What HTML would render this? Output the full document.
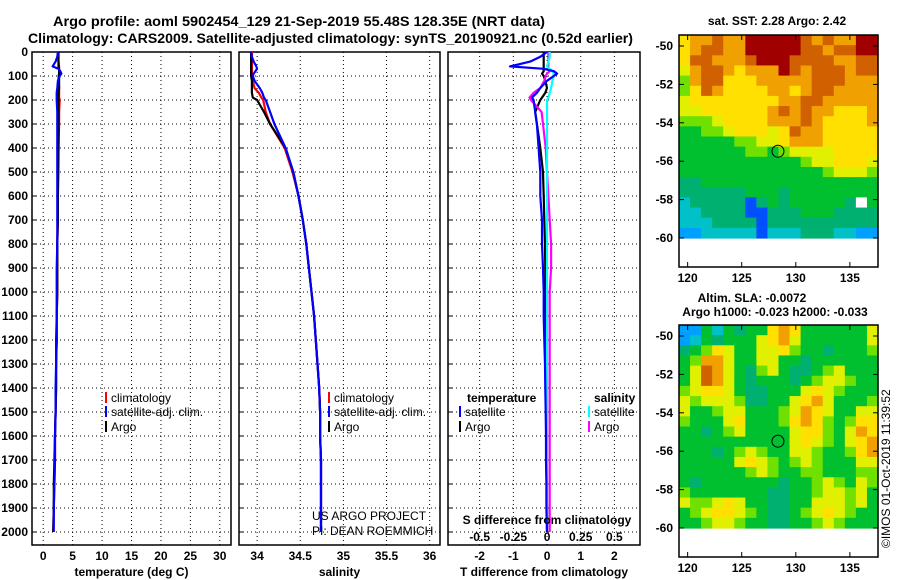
<!DOCTYPE html>
<html><head><meta charset="utf-8"><style>
body{margin:0;background:#fff}
svg{display:block;font-family:"Liberation Sans",sans-serif;font-weight:bold}
</style></head><body>
<svg id="c" width="900" height="580" viewBox="0 0 900 580">
<text x="53" y="26" font-size="14" textLength="492" lengthAdjust="spacingAndGlyphs">Argo profile: aoml 5902454_129 21-Sep-2019 55.48S 128.35E (NRT data)</text>
<text x="28" y="43" font-size="14" textLength="605" lengthAdjust="spacingAndGlyphs">Climatology: CARS2009. Satellite-adjusted climatology: synTS_20190921.nc (0.52d earlier)</text>
</svg>
<script>
const depths=[0,20,40,60,70,80,90,100,120,150,170,190,200,250,300,400,500,600,700,800,900,1000,1100,1200,1300,1400,1500,1600,1700,1800,1900,2000];
const tempClim=[2.5,2.5,2.6,2.7,2.7,2.7,2.7,2.6,2.6,2.7,2.7,2.7,2.8,2.7,2.7,2.6,2.6,2.5,2.5,2.4,2.4,2.4,2.3,2.3,2.2,2.2,2.1,2.0,2.0,1.9,1.8,1.7];
const tempSat=[2.5,2.4,2.1,1.6,2.6,2.9,3.1,2.8,2.5,2.4,2.3,2.3,2.3,2.4,2.4,2.4,2.4,2.4,2.4,2.4,2.3,2.3,2.3,2.2,2.2,2.1,2.1,2.0,2.0,1.9,1.8,1.8];
const tempArgo=[2.6,2.6,2.6,2.6,2.7,2.7,2.7,2.7,2.7,2.7,2.6,2.6,2.6,2.6,2.6,2.6,2.5,2.5,2.5,2.4,2.4,2.4,2.3,2.3,2.2,2.2,2.1,2.0,1.9,1.8,1.8,1.7];
const salClim=[33.94,33.94,33.94,33.94,33.94,33.94,33.94,33.94,33.95,33.97,34.02,34.05,34.07,34.10,34.15,34.32,34.41,34.48,34.53,34.57,34.60,34.63,34.66,34.68,34.70,34.72,34.73,34.73,34.74,34.74,34.74,34.74];
const salSat=[33.93,33.94,33.96,33.99,34.00,33.98,33.96,33.95,33.97,34.03,34.06,34.08,34.10,34.15,34.20,34.33,34.42,34.48,34.53,34.57,34.60,34.63,34.66,34.68,34.70,34.72,34.73,34.73,34.74,34.74,34.74,34.74];
const salArgo=[33.93,33.93,33.93,33.93,33.93,33.93,33.93,33.93,33.94,33.94,33.94,33.95,34.00,34.08,34.15,34.33,34.42,34.48,34.53,34.57,34.60,34.63,34.66,34.68,34.70,34.72,34.73,34.73,34.74,34.74,34.74,34.74];
const tdiffSat=[0.0,-0.2,-0.5,-1.1,-0.1,0.2,0.3,0.2,0.0,-0.2,-0.3,-0.45,-0.4,-0.35,-0.3,-0.25,-0.2,-0.2,-0.15,-0.15,-0.12,-0.1,-0.1,-0.08,-0.06,-0.05,-0.04,-0.03,-0.03,-0.02,-0.02,0];
const tdiffArgo=[-0.1,-0.1,-0.1,-0.1,-0.1,-0.1,-0.15,-0.1,-0.05,0,-0.05,-0.15,-0.2,-0.35,-0.3,-0.2,-0.12,-0.1,-0.08,-0.06,-0.05,-0.05,-0.04,-0.04,-0.03,-0.03,-0.02,-0.02,-0.02,-0.01,0,0];
const sdiffSat=[0.02,0.02,0.01,0.0,0.02,0.04,0.05,0.05,0.04,0.03,0.02,0.01,0,0,0,0,0,0,0,0,0,0,0,0,0,0,0,0,0,0,0,0];
const sdiffArgo=[0.01,0.01,0.01,0.01,0.01,0.02,0.0,-0.01,-0.02,-0.05,-0.1,-0.13,-0.12,-0.04,-0.03,-0.01,0,0.01,0.02,0.03,0.03,0.02,0.02,0.02,0.02,0.02,0.02,0.02,0.02,0.02,0.02,0.02];
const depthTicks=[0,100,200,300,400,500,600,700,800,900,1000,1100,1200,1300,1400,1500,1600,1700,1800,1900,2000];
const tempTicks=[0,5,10,15,20,25,30];
const salTicks=[34,34.5,35,35.5,36];
const tdiffTicks=[-2,-1,0,1,2];
const sdiffTicks=[-0.5,-0.25,0,0.25,0.5];
const latTicks=[-50,-52,-54,-56,-58,-60];
const lonTicks=[120,125,130,135];
const sstGrid=[
"788988AAAAA98988AA","789988AAAAA99899AA","7998889AAA99998899","689987888A98999899",
"589977788888999888","579877778878998888","677777777889988888","667777778989887778",
"555677778889877778","445567776798877777","444445566788877777","444444554566667777",
"444444444445667776","444444444444456665","334444444444444444","333333444344444444",
"2333330343444443W4","223333003334443333","222333303333333333","112222202223332211"];
const slaGrid=[
"114243447874444446","124344467864444446","345764466754434445","458864466443444444",
"469864356433456444","469864344434566544","567764334446765444","656665334467864445",
"644566444568764466","544467444578754577","443456444467754687","444444444467654678",
"444345654466544578","444446765456544466","444444565445544455","434444444344565465",
"544444443344566564","655676443344666564","456776543345676544","445665443344565444"];
const profLon=128.35, profLat=-55.48;

const svg=document.getElementById('c');
const NS='http://www.w3.org/2000/svg';
function el(t,a,p){const e=document.createElementNS(NS,t);for(const k in a)e.setAttribute(k,a[k]);(p||svg).appendChild(e);return e;}
function txt(s,a,p){const e=el('text',a,p);e.textContent=s;return e;}
const Y0=52, YK=0.24, PB=545;
const yD=d=>Y0+YK*d;
const panels=[
 {x0:32,x1:231,v0:-1.9,v1:31.9,ticks:tempTicks,label:'temperature (deg C)',name:'temperature-panel'},
 {x0:239,x1:440,v0:33.79,v1:36.12,ticks:salTicks,label:'salinity',name:'salinity-panel'},
 {x0:448,x1:640,v0:-2.94,v1:2.76,ticks:tdiffTicks,label:'T difference from climatology',name:'difference-panel'}];
panels.forEach((p,i)=>{
 p.x=v=>p.x0+(v-p.v0)/(p.v1-p.v0)*(p.x1-p.x0);
 const g=el('g',{});
 
 
 depthTicks.forEach(d=>{
  const l=el('line',{x1:p.x0,x2:p.x1,y1:yD(d),y2:yD(d),stroke:'#000','stroke-dasharray':'1 3'},g);
  
  
  el('line',{x1:p.x0,x2:p.x0+5,y1:yD(d),y2:yD(d),stroke:'#000'},g);
  if(i==0){const t=txt(String(d),{x:28,y:yD(d)+4,'text-anchor':'end','font-size':12},g);
   
   }
 });
 p.ticks.forEach(v=>{
  const l=el('line',{x1:p.x(v),x2:p.x(v),y1:Y0,y2:PB,stroke:'#000','stroke-dasharray':'1 3'},g);
  
  
  const t=txt(String(v),{x:p.x(v),y:560,'text-anchor':'middle','font-size':12},g);
  
  
 });
 el('rect',{x:p.x0,y:Y0,width:p.x1-p.x0,height:PB-Y0,fill:'none',stroke:'#000','stroke-width':1.5},g);
 const t=txt(p.label,{x:(p.x0+p.x1)/2,y:576,'text-anchor':'middle','font-size':12},g);
 
 
});
function line(p,vals,col,name,scale){
 const pts=vals.map((v,i)=>p.x(v*(scale||1)).toFixed(1)+','+yD(depths[i]).toFixed(1)).join(' ');
 const e=el('polyline',{points:pts,fill:'none',stroke:col,'stroke-width':2.2,'stroke-linejoin':'round'});
 
 
}
const [P1,P2,P3]=panels;
line(P1,tempClim,'#f00','temp-climatology-line');line(P1,tempArgo,'#000','temp-argo-line');line(P1,tempSat,'#00f','temp-satellite-line');
line(P2,salClim,'#f00','sal-climatology-line');line(P2,salArgo,'#000','sal-argo-line');line(P2,salSat,'#00f','sal-satellite-line');
line(P3,tdiffArgo,'#000','tdiff-argo-line');line(P3,sdiffArgo,'#f0f','sdiff-argo-line',4);
line(P3,sdiffSat,'#0ff','sdiff-satellite-line',4);line(P3,tdiffSat,'#00f','tdiff-satellite-line');
sdiffTicks.forEach(v=>{const t=txt(String(v),{x:P3.x(v*4),y:541,'text-anchor':'middle','font-size':12});
 
 });
txt('S difference from climatology',{x:547,y:524,'text-anchor':'middle','font-size':12,});
function leg(x,y,col,label,nm){const g=el('g',{});
 el('rect',{x:x,y:y-10,width:2,height:11,fill:col},g);
 txt(label,{x:x+6,y:y,'font-size':12,'font-weight':'normal'},g);}
leg(105,402,'#f00','climatology','legend-climatology');leg(105,416,'#00f','satellite-adj. clim.','legend-satellite');leg(105,431,'#000','Argo','legend-argo');
leg(328,402,'#f00','climatology','legend-climatology-2');leg(328,416,'#00f','satellite-adj. clim.','legend-satellite-2');leg(328,431,'#000','Argo','legend-argo-2');
txt('temperature',{x:467,y:402,'font-size':12,});
txt('salinity',{x:594,y:402,'font-size':12,});
leg(459,416,'#00f','satellite','legend-t-satellite');leg(459,431,'#000','Argo','legend-t-argo');
leg(588,416,'#0ff','satellite','legend-s-satellite');leg(588,431,'#f0f','Argo','legend-s-argo');
txt('US ARGO PROJECT',{x:312,y:520,'font-size':12,'font-weight':'normal',});
txt('PI: DEAN ROEMMICH',{x:312,y:535,'font-size':12,'font-weight':'normal',});
const cmap={'0':'#0050ff','1':'#00a0ff','2':'#00c0c8','3':'#00b070','4':'#00c030','5':'#70e000','6':'#e0f000','7':'#ffe000','8':'#f0a000','9':'#d06000','A':'#a00000','W':'#ffffff'};
const MX0=679,MX1=878,LON0=119.2,LON1=137.6;
const mx=l=>MX0+(l-LON0)/(LON1-LON0)*(MX1-MX0);
function map(grid,top,bottom,name,titles){
 const g=el('g',{});
 
 
 const my=lat=>top+11+(-50-lat)*19.2;
 const cols=grid[0].length, rows=grid.length;
 const cw=(MX1-MX0)/cols, ch=(my(-60)-top)/rows;
 grid.forEach((r,j)=>{for(let i=0;i<cols;i++){
  el('rect',{x:MX0+i*cw,y:top+j*ch,width:cw+0.6,height:ch+0.6,fill:cmap[r[i]]},g);}});
 el('rect',{x:MX0,y:top,width:MX1-MX0,height:bottom-top,fill:'none',stroke:'#000','stroke-width':1.5},g);
 latTicks.forEach(l=>{el('line',{x1:MX0,x2:MX0+5,y1:my(l),y2:my(l),stroke:'#000'},g);el('line',{x1:MX1-5,x2:MX1,y1:my(l),y2:my(l),stroke:'#000'},g);
  const t=txt(String(l),{x:673,y:my(l)+4,'text-anchor':'end','font-size':12},g);
  
  });
 lonTicks.forEach(l=>{el('line',{x1:mx(l),x2:mx(l),y1:bottom,y2:bottom-5,stroke:'#000'},g);el('line',{x1:mx(l),x2:mx(l),y1:top,y2:top+5,stroke:'#000'},g);
  const t=txt(String(l),{x:mx(l),y:bottom+15,'text-anchor':'middle','font-size':12},g);
  
  });
 const c=el('circle',{cx:mx(profLon),cy:my(profLat),r:6,fill:'none',stroke:'#000','stroke-width':1},g);
 
 
 titles.forEach(t=>{const e=txt(t[0],{x:t[1],y:t[2],'text-anchor':'middle','font-size':12},g);
  
  });
}
map(sstGrid,35,267,'sst-map',[['sat. SST: 2.28 Argo: 2.42',777,25]]);
map(slaGrid,325,557,'sla-map',[['Altim. SLA: -0.0072',752,302],['Argo h1000: -0.023 h2000: -0.033',775,316]]);
const cr=txt('©IMOS 01-Oct-2019 11:39:52',{x:0,y:0,'font-size':12,'font-weight':'normal',transform:'translate(890,548) rotate(-90)'});


</script>
</body></html>
